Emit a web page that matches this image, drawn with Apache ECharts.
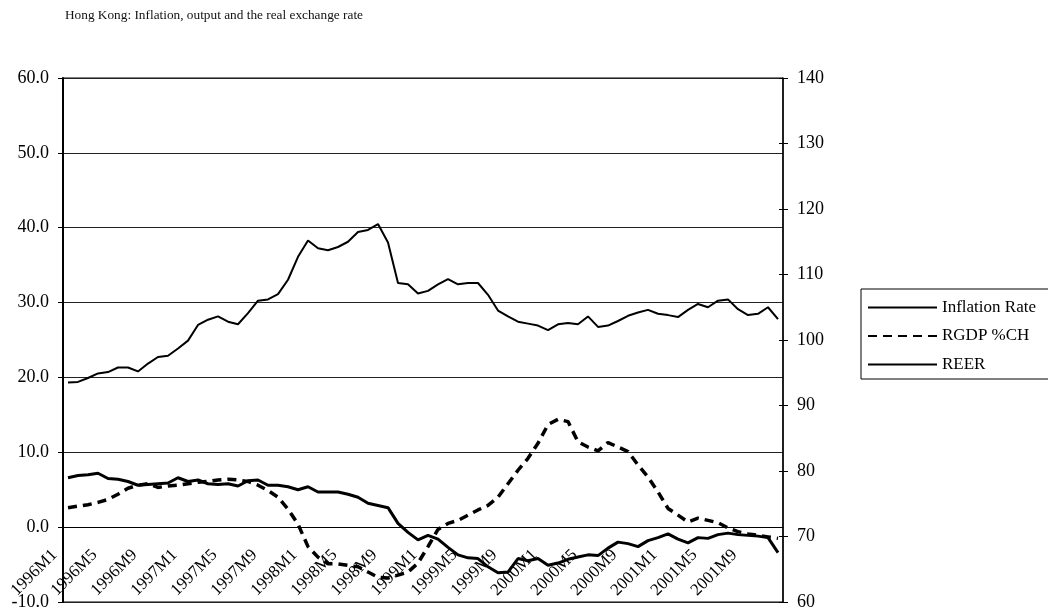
<!DOCTYPE html>
<html>
<head>
<meta charset="utf-8">
<title>Hong Kong: Inflation, output and the real exchange rate</title>
<script src="https://cdn.jsdelivr.net/npm/echarts/dist/echarts.min.js"></script>
<style>
  html, body { margin: 0; padding: 0; background: #fff; }
  #main { width: 1048px; height: 615px; }
</style>
</head>
<body>
<div id="main"></div>
<script>
// monthly categories 1996M1 .. 2001M12
var years = [1996, 1997, 1998, 1999, 2000, 2001];
var months = [];
years.forEach(function (y) {
  for (var m = 1; m <= 12; m++) months.push(y + 'M' + m);
});

// inflation rate, % (left axis)
var inflation = [
  6.6, 6.9, 7.0, 7.2, 6.5, 6.4, 6.1, 5.6, 5.7, 5.8,
  5.9, 6.6, 6.1, 6.3, 5.8, 5.7, 5.8, 5.5, 6.2, 6.3,
  5.6, 5.6, 5.4, 5.0, 5.4, 4.7, 4.7, 4.7, 4.4, 4.0,
  3.2, 2.9, 2.6, 0.5, -0.7, -1.7, -1.1, -1.6, -2.7, -3.7,
  -4.1, -4.2, -5.3, -6.1, -6.0, -4.2, -4.5, -4.2, -5.1, -4.8,
  -4.3, -4.0, -3.7, -3.8, -2.8, -2.0, -2.2, -2.6, -1.8, -1.4,
  -0.9, -1.6, -2.1, -1.4, -1.5, -1.0, -0.8, -1.0, -1.1, -1.2,
  -1.4, -3.4
];

// real GDP % change (left axis)
var rgdp = [
  2.6, 2.8, 3.0, 3.3, 3.7, 4.4, 5.2, 5.6, 5.8, 5.3,
  5.5, 5.6, 5.8, 6.0, 6.1, 6.3, 6.4, 6.3, 6.1, 5.6,
  4.9, 4.0, 2.4, 0.4, -2.6, -4.0, -4.9, -4.9, -5.1, -5.3,
  -6.0, -6.7, -6.8, -6.4, -6.0, -4.8, -2.6, -0.3, 0.5, 0.9,
  1.6, 2.3, 2.9, 4.0, 5.8, 7.6, 9.2, 11.2, 13.7, 14.4,
  14.1, 11.4, 10.7, 10.2, 11.3, 10.7, 10.1, 8.3, 6.7, 4.7,
  2.5, 1.6, 0.7, 1.2, 0.9, 0.6, -0.1, -0.6, -0.9, -1.1,
  -1.3, -1.5
];

// real effective exchange rate index (right axis)
var reer = [
  93.5, 93.6, 94.2, 94.9, 95.1, 95.8, 95.8, 95.2, 96.4, 97.4,
  97.6, 98.7, 99.9, 102.3, 103.1, 103.6, 102.8, 102.4, 104.1, 106.0,
  106.2, 107.0, 109.2, 112.7, 115.2, 114.0, 113.7, 114.2, 115.0, 116.5,
  116.8, 117.7, 114.9, 108.7, 108.5, 107.1, 107.5, 108.5, 109.3, 108.5,
  108.7, 108.7, 106.9, 104.5, 103.6, 102.8, 102.5, 102.2, 101.5, 102.4,
  102.6, 102.4, 103.6, 102.0, 102.2, 102.9, 103.7, 104.2, 104.6, 104.0,
  103.8, 103.5, 104.6, 105.5, 105.0, 106.0, 106.2, 104.7, 103.8, 104.0,
  105.0, 103.2
];

var font = '"Liberation Serif", "Times New Roman", serif';

var chart = echarts.init(document.getElementById('main'));
chart.setOption({
  animation: false,
  backgroundColor: '#fff',
  textStyle: { fontFamily: font, color: '#000' },
  title: {
    text: 'Hong Kong: Inflation, output and the real exchange rate',
    left: 60,
    top: 4,
    textStyle: { fontFamily: font, fontSize: 13.3, fontWeight: 'normal', color: '#111' }
  },
  legend: {
    data: ['Inflation Rate', 'RGDP %CH', 'REER'],
    orient: 'vertical',
    left: 861,
    top: 289,
    itemWidth: 69,
    itemHeight: 14,
    itemGap: 11.5,
    padding: [10, 30, 6, 6],
    borderColor: '#000',
    borderWidth: 1,
    itemStyle: { opacity: 0 },
    textStyle: { fontFamily: font, fontSize: 17, color: '#000' }
  },
  grid: {
    left: 63,
    right: 265,
    top: 78,
    bottom: 13,
    outerBoundsMode: 'none',
    containLabel: false,
    show: true,
    borderColor: '#000',
    borderWidth: 1
  },
  xAxis: {
    type: 'category',
    data: months,
    boundaryGap: true,
    position: 'bottom',
    // the category axis sits on the 0.0 line of the left axis (75px above the plot bottom)
    offset: -75,
    axisLine: { onZero: false, lineStyle: { color: '#000', width: 1 } },
    axisTick: { interval: 0, length: 5, lineStyle: { color: '#000' } },
    axisLabel: {
      interval: 3,
      rotate: 45,
      margin: 12,
      padding: [0, 19, 0, 0],
      fontFamily: font,
      fontSize: 17,
      color: '#000'
    },
    splitLine: { show: false }
  },
  yAxis: [
    {
      type: 'value',
      min: -10,
      max: 60,
      interval: 10,
      position: 'left',
      axisLine: { show: true, onZero: false, lineStyle: { color: '#000', width: 2 } },
      axisTick: { show: true, length: 5, lineStyle: { color: '#000' } },
      axisLabel: {
        margin: 14,
        fontFamily: font,
        fontSize: 18,
        color: '#000',
        formatter: function (v) { return v.toFixed(1); }
      },
      splitLine: { show: true, lineStyle: { color: '#222', width: 1 } }
    },
    {
      type: 'value',
      min: 60,
      max: 140,
      interval: 10,
      position: 'right',
      axisLine: { show: true, onZero: false, lineStyle: { color: '#000', width: 1.5 } },
      axisTick: { show: true, length: 5, lineStyle: { color: '#000' } },
      axisLabel: { margin: 14, fontFamily: font, fontSize: 18, color: '#000' },
      splitLine: { show: false }
    },
    {
      // inner half of the cross ticks on the right axis
      type: 'value',
      min: 60,
      max: 140,
      interval: 10,
      position: 'right',
      axisLine: { show: false, onZero: false },
      axisTick: { show: true, inside: true, length: 4, lineStyle: { color: '#000' } },
      axisLabel: { show: false },
      splitLine: { show: false }
    }
  ],
  series: [
    {
      name: 'Inflation Rate',
      type: 'line',
      data: inflation,
      yAxisIndex: 0,
      symbol: 'none',
      lineStyle: { color: '#000', width: 3 },
      itemStyle: { color: '#000' },
      z: 4
    },
    {
      name: 'RGDP %CH',
      type: 'line',
      data: rgdp,
      yAxisIndex: 0,
      symbol: 'none',
      lineStyle: { color: '#000', width: 3.5, type: [9, 6] },
      itemStyle: { color: '#000' },
      z: 3
    },
    {
      name: 'REER',
      type: 'line',
      data: reer,
      yAxisIndex: 1,
      symbol: 'none',
      lineStyle: { color: '#000', width: 2 },
      itemStyle: { color: '#000' },
      z: 2
    }
  ]
});
</script>
</body>
</html>
